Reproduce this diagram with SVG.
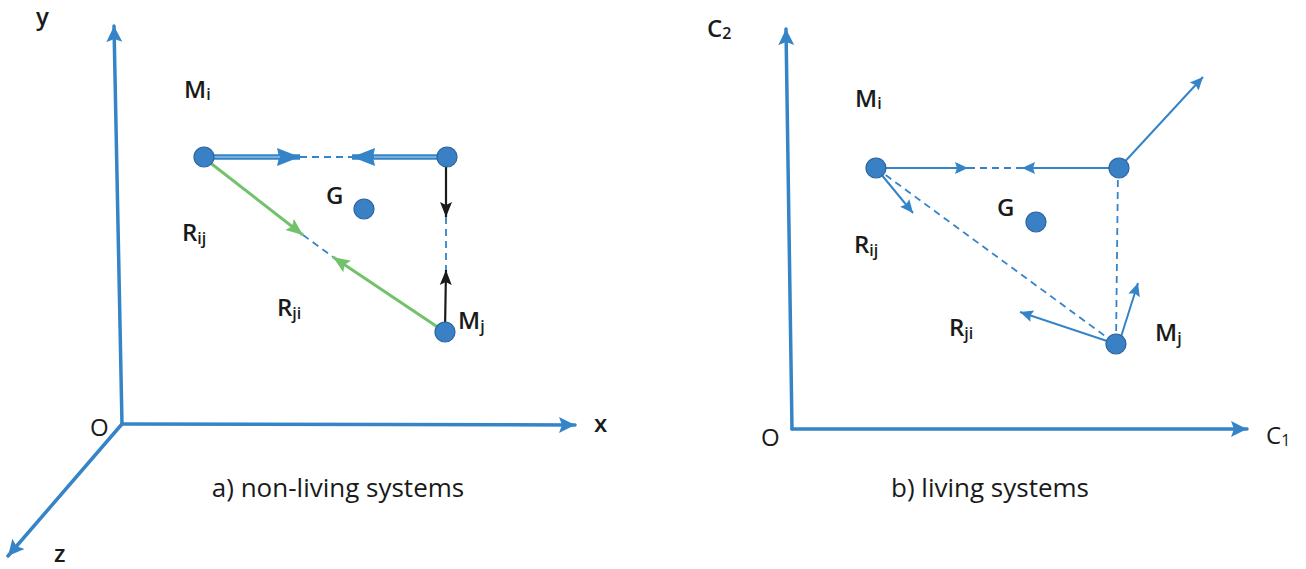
<svg xmlns="http://www.w3.org/2000/svg" width="1306" height="569" viewBox="0 0 1306 569">
  <style>
    .axis { stroke: #3584c8; stroke-width: 3.5; fill: none; stroke-linecap: round; }
    .vec { stroke: #3584c8; stroke-width: 2; fill: none; }
    .dash { stroke: #3584c8; stroke-width: 1.8; fill: none; stroke-dasharray: 7 5; }
    .thick { stroke: #3584c8; stroke-width: 5.5; fill: none; }
    .core { stroke: #bcd8f0; stroke-width: 1; fill: none; }
    .green { stroke: #72c26c; stroke-width: 3; fill: none; }
    .black { stroke: #1a1a1a; stroke-width: 2.2; fill: none; }
    .dot { fill: #3a80c4; stroke: #2a64a0; stroke-width: 1.2; }
    .lbl { font-family: "Open Sans", "Noto Sans", sans-serif; font-size: 24px; font-weight: 600; fill: #1a1a1a; }
    .ax { font-family: "Open Sans", "Noto Sans", sans-serif; font-size: 24px; font-weight: 600; fill: #1a1a1a; }
    .o { font-family: "Open Sans", "Noto Sans", sans-serif; font-size: 24px; fill: #1a1a1a; }
    .cap { font-family: "Open Sans", "Noto Sans", sans-serif; font-size: 26px; fill: #1a1a1a; }
    .sub { font-size: 16px; }
  </style>
  <defs>
    <marker id="axHead" markerUnits="userSpaceOnUse" markerWidth="18" markerHeight="18" refX="16" refY="9" orient="auto">
      <path d="M0,1 L16,9 L0,17 L3,9 z" fill="#3584c8"/>
    </marker>
    <marker id="bigHead" markerUnits="userSpaceOnUse" markerWidth="24" markerHeight="20" refX="23" refY="10" orient="auto">
      <path d="M0,1 L23,10 L0,19 L2,10 z" fill="#3584c8"/>
    </marker>
    <marker id="smHead" markerUnits="userSpaceOnUse" markerWidth="14" markerHeight="14" refX="13" refY="7" orient="auto">
      <path d="M0,1 L13,7 L0,13 L2,7 z" fill="#3584c8"/>
    </marker>
    <marker id="blkHead" markerUnits="userSpaceOnUse" markerWidth="16" markerHeight="14" refX="15" refY="7" orient="auto">
      <path d="M0,1 L15,7 L0,13 L3,7 z" fill="#1a1a1a"/>
    </marker>
    <marker id="grHead" markerUnits="userSpaceOnUse" markerWidth="18" markerHeight="16" refX="17" refY="8" orient="auto">
      <path d="M0,1 L17,8 L0,15 L3,8 z" fill="#72c26c"/>
    </marker>
  </defs>

  <g id="connectors">
    <!-- panel a axes -->
    <line class="axis" x1="122" y1="424" x2="114" y2="26" marker-end="url(#axHead)"/>
    <line class="axis" x1="122" y1="424" x2="575" y2="425" marker-end="url(#axHead)"/>
    <line class="axis" x1="122" y1="424" x2="8" y2="556" marker-end="url(#axHead)"/>

    <!-- panel a vectors -->
    <line class="dash" x1="300" y1="157" x2="352" y2="157"/>
    <line class="thick" x1="204" y1="157" x2="300" y2="157" marker-end="url(#bigHead)"/>
    <line class="core" x1="204" y1="157" x2="280" y2="157"/>
    <line class="thick" x1="447" y1="157" x2="352" y2="157" marker-end="url(#bigHead)"/>
    <line class="core" x1="447" y1="157" x2="374" y2="157"/>

    <line class="dash" x1="446" y1="217" x2="446" y2="270"/>
    <line class="black" x1="446" y1="160" x2="446" y2="217" marker-end="url(#blkHead)"/>
    <line class="black" x1="445" y1="330" x2="446" y2="270" marker-end="url(#blkHead)"/>

    <line class="dash" x1="303" y1="235" x2="333" y2="257"/>
    <line class="green" x1="204" y1="158" x2="303" y2="235" marker-end="url(#grHead)"/>
    <line class="green" x1="445" y1="332" x2="333" y2="257" marker-end="url(#grHead)"/>

    <!-- panel b axes -->
    <line class="axis" x1="792" y1="429" x2="786" y2="29" marker-end="url(#axHead)"/>
    <line class="axis" x1="792" y1="429" x2="1247" y2="429" marker-end="url(#axHead)"/>

    <!-- panel b vectors -->
    <line class="dash" x1="968" y1="168" x2="1022" y2="168"/>
    <line class="vec" x1="876" y1="168" x2="968" y2="168" marker-end="url(#smHead)"/>
    <line class="vec" x1="1119" y1="168" x2="1022" y2="168" marker-end="url(#smHead)"/>
    <line class="vec" x1="1119" y1="168" x2="1203" y2="77" marker-end="url(#smHead)"/>
    <line class="dash" x1="1118" y1="168" x2="1116" y2="344"/>
    <line class="dash" x1="876" y1="168" x2="1116" y2="344"/>
    <line class="vec" x1="876" y1="168" x2="913" y2="213" marker-end="url(#smHead)"/>
    <line class="vec" x1="1116" y1="344" x2="1020" y2="312" marker-end="url(#smHead)"/>
    <line class="vec" x1="1120" y1="340" x2="1138" y2="283" marker-end="url(#smHead)"/>
  </g>

  <g id="node-a-Mi"><circle class="dot" cx="204" cy="157" r="10"/></g>
  <g id="node-a-Mk"><circle class="dot" cx="447" cy="157" r="10"/></g>
  <g id="node-a-Mj"><circle class="dot" cx="445" cy="332" r="10"/></g>
  <g id="node-a-G"><circle class="dot" cx="364" cy="209" r="10"/></g>

  <g id="node-b-Mi"><circle class="dot" cx="876" cy="168" r="10"/></g>
  <g id="node-b-Mk"><circle class="dot" cx="1119" cy="168" r="10"/></g>
  <g id="node-b-Mj"><circle class="dot" cx="1116" cy="344" r="10"/></g>
  <g id="node-b-G"><circle class="dot" cx="1036" cy="222" r="10"/></g>

  <g id="labels-a">
    <text class="ax" x="36" y="25">y</text>
    <text class="ax" x="594" y="432">x</text>
    <text class="ax" x="54" y="562">z</text>
    <text class="o" x="90" y="436">O</text>
    <text class="lbl" x="184" y="98">M<tspan class="sub" dy="2">i</tspan></text>
    <text class="lbl" x="326" y="204">G</text>
    <text class="lbl" x="182" y="241">R<tspan class="sub" dy="3">ij</tspan></text>
    <text class="lbl" x="277" y="316">R<tspan class="sub" dy="3">ji</tspan></text>
    <text class="lbl" x="458" y="329">M<tspan class="sub" dy="3">j</tspan></text>
    <text class="cap" x="338" y="497" text-anchor="middle">a) non-living systems</text>
  </g>

  <g id="labels-b">
    <text class="ax" x="707" y="37">C<tspan class="sub" dy="2">2</tspan></text>
    <text class="o" x="1266" y="444">C<tspan class="sub" dy="2">1</tspan></text>
    <text class="o" x="761" y="446">O</text>
    <text class="lbl" x="855" y="107">M<tspan class="sub" dy="2">i</tspan></text>
    <text class="lbl" x="997" y="216">G</text>
    <text class="lbl" x="854" y="253">R<tspan class="sub" dy="3">ij</tspan></text>
    <text class="lbl" x="949" y="336">R<tspan class="sub" dy="3">ji</tspan></text>
    <text class="lbl" x="1155" y="341">M<tspan class="sub" dy="3">j</tspan></text>
    <text class="cap" x="990" y="497" text-anchor="middle">b) living systems</text>
  </g>
</svg>
